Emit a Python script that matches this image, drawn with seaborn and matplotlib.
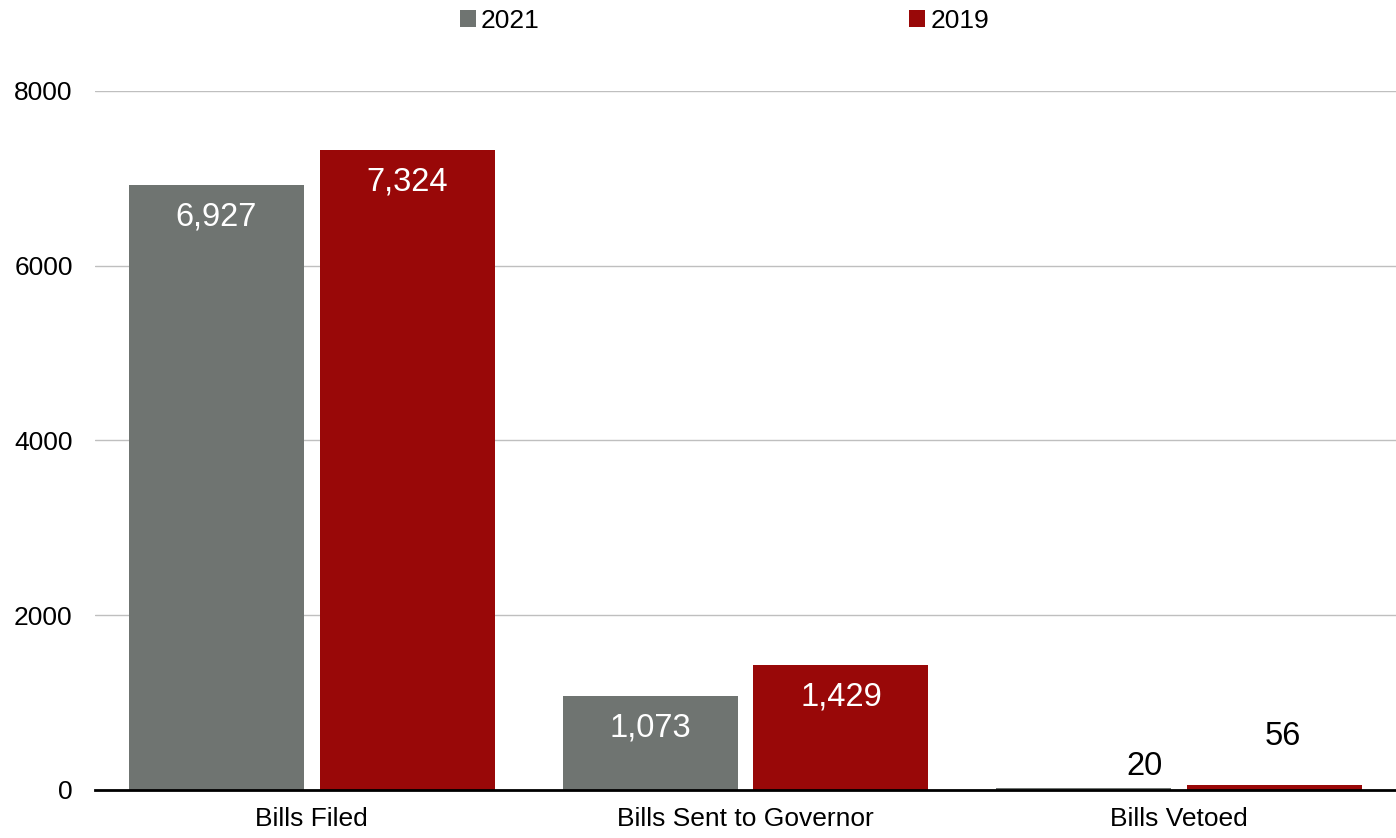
import pandas as pd
import numpy as np
import matplotlib.pyplot as plt
import seaborn as sns

# -------------------------
# data
# -------------------------
categories = ["Bills Filed", "Bills Sent to Governor", "Bills Vetoed"]
years = ["2021", "2019"]
values_2021 = [6927, 1073, 20]
values_2019 = [7324, 1429, 56]
yticks = [0, 2000, 4000, 6000, 8000]

colors = {"2021": "#6F7471", "2019": "#990808"}

df = pd.DataFrame({
    "category": categories * 2,
    "year": ["2021"] * 3 + ["2019"] * 3,
    "count": values_2021 + values_2019,
})

# -------------------------
# plot
# -------------------------
sns.set_style("white")
plt.rcParams["font.family"] = ["Liberation Sans", "DejaVu Sans"]

fig = plt.figure(figsize=(13.96, 8.38), dpi=100)
ax = fig.add_axes([0.068, 0.0573, 0.932, 0.8342])

sns.barplot(data=df, x="category", y="count", hue="year", hue_order=years,
            palette=colors, width=0.88, gap=0.083, saturation=1,
            edgecolor="none", ax=ax, legend=True)

ax.set_ylim(0, 8000)
ax.set_xlim(-0.5, 2.5)
ax.set_yticks(yticks)
ax.set_yticklabels([str(t) for t in yticks])
ax.yaxis.grid(True, color="#BFBFBF", linewidth=1)
ax.set_axisbelow(True)
ax.set_xlabel("")
ax.set_ylabel("")
ax.tick_params(axis="both", labelsize=19, length=0, colors="black")
ax.tick_params(axis="y", pad=16)
ax.tick_params(axis="x", pad=12)
for s in ["left", "right", "top"]:
    ax.spines[s].set_visible(False)
ax.spines["bottom"].set_color("black")
ax.spines["bottom"].set_linewidth(2)

# value labels
for cont in ax.containers:
    for bar in cont:
        h = bar.get_height()
        x = bar.get_x() + bar.get_width() / 2
        txt = f"{int(h):,}"
        if h > 500:
            ax.annotate(txt, (x, h), xytext=(0, -23), textcoords="offset points",
                        ha="center", va="center", color="white", fontsize=23.5)
        elif h < 30:
            # tiny bar: label sits above, shifted right
            ax.annotate(txt, (x, h), xytext=(44, 16), textcoords="offset points",
                        ha="center", va="center", color="black", fontsize=23.5)
        else:
            ax.annotate(txt, (x, h), xytext=(6, 35), textcoords="offset points",
                        ha="center", va="center", color="black", fontsize=23.5)

handles, labels = ax.get_legend_handles_labels()
ax.legend_.remove()
leg = fig.legend(handles, labels, loc="upper center", bbox_to_anchor=(0.519, 1.018),
                 ncol=2, frameon=False, fontsize=19, columnspacing=14,
                 handlelength=0.6, handleheight=0.6, handletextpad=0.2)
for t in leg.get_texts():
    t.set_color("black")

plt.savefig("out.png", dpi=100)
